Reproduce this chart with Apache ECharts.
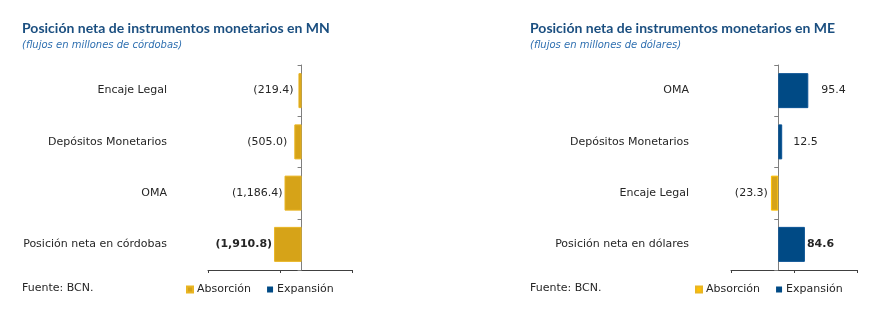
<!DOCTYPE html>
<html>
<head>
<meta charset="utf-8">
<script src="https://cdn.jsdelivr.net/npm/echarts@6/dist/echarts.min.js"></script>
<style>
html,body{margin:0;padding:0;background:#fff;}
#chart{width:871px;height:329px;}
</style>
</head>
<body>
<div id="chart"></div>
<script>
// ---- Data ----
const mnCategories = ['Encaje Legal', 'Depósitos Monetarios', 'OMA', 'Posición neta en córdobas'];
const mnAbsorcion = [-219.4, -505.0, -1186.4, -1910.8];
const mnExpansion = [null, null, null, null];

const meCategories = ['OMA', 'Depósitos Monetarios', 'Encaje Legal', 'Posición neta en dólares'];
const meAbsorcion = [null, null, -23.3, null];
const meExpansion = [95.4, 12.5, null, 84.6];

const legendNames = ['Absorción', 'Expansión'];

// ---- Styles ----
const GOLD = '#D6A318';
const GOLD_BORDER = '#E9B522';
const YELLOW = '#FFC000';
const BLUE = '#004A85';
const TXT = '#262626';
const FONT = 'DejaVu Sans';

function fmt(v) {
  const a = Math.abs(v).toLocaleString('en-US', {minimumFractionDigits: 1, maximumFractionDigits: 1});
  return v < 0 ? '(' + a + ')' : a;
}

function buildData(arr, distances, boldIndex) {
  return arr.map((v, i) => {
    if (v === null) return '-';
    const item = {value: v, label: {distance: distances[i]}};
    if (i === boldIndex) item.label.fontWeight = 'bold';
    return item;
  });
}

const labelBase = {
  show: true, fontFamily: FONT, fontSize: 11, color: TXT,
  formatter: p => fmt(p.value)
};

const chart = echarts.init(document.getElementById('chart'), null, {renderer: 'canvas'});

const titleStyle = {fontFamily: 'Lato', fontSize: 14, fontWeight: 'bold', color: '#1B4F80'};
const subStyle = {fontFamily: 'DejaVu Sans', fontSize: 10, fontStyle: 'italic', fontWeight: 'normal', color: '#2E6FB0'};
const footStyle = {fontFamily: FONT, fontSize: 11, color: TXT, fontWeight: 'normal'};

const option = {
  animation: false,
  title: [
    {text: 'Posición neta de instrumentos monetarios en MN', left: 22, top: 21, padding: 0, textStyle: titleStyle},
    {text: '(flujos en millones de córdobas)', left: 22, top: 40, padding: 0, textStyle: subStyle},
    {text: 'Posición neta de instrumentos monetarios en ME', left: 530, top: 21, padding: 0, textStyle: titleStyle},
    {text: '(flujos en millones de dólares)', left: 530, top: 40, padding: 0, textStyle: subStyle},
    {text: 'Fuente: BCN.', left: 22, top: 283, padding: 0, textStyle: footStyle},
    {text: 'Fuente: BCN.', left: 530, top: 283, padding: 0, textStyle: footStyle}
  ],
  legend: [
    {
      left: 186, top: 284, padding: 0, itemWidth: 6, itemHeight: 6, itemGap: 16,
      icon: 'rect',
      textStyle: {fontFamily: FONT, fontSize: 11, color: TXT, padding: [0, 0, 0, -1]},
      data: [
        {name: legendNames[0], itemStyle: {color: GOLD}},
        {name: legendNames[1], itemStyle: {color: BLUE}}
      ],
      selectedMode: false
    },
    {
      left: 695, top: 284, padding: 0, itemWidth: 6, itemHeight: 6, itemGap: 16,
      icon: 'rect',
      textStyle: {fontFamily: FONT, fontSize: 11, color: TXT, padding: [0, 0, 0, -1]},
      data: [
        {name: legendNames[0], itemStyle: {color: YELLOW}},
        {name: legendNames[1], itemStyle: {color: BLUE}}
      ],
      selectedMode: false
    }
  ],
  grid: [
    {left: 208, width: 144, top: 65, height: 205, containLabel: false, outerBoundsMode: 'none'},
    {left: 731, width: 126, top: 65, height: 205, containLabel: false, outerBoundsMode: 'none'}
  ],
  xAxis: [
    {gridIndex: 0, type: 'value', min: -6500, max: 3500,
      axisLine: {show: false}, axisTick: {show: false}, axisLabel: {show: false}, splitLine: {show: false}},
    {gridIndex: 0, type: 'value', min: 0, max: 2, interval: 1, position: 'bottom',
      axisLine: {show: true, onZero: false, lineStyle: {color: '#404040', width: 1}},
      axisTick: {show: true, length: 3, lineStyle: {color: '#404040'}},
      axisLabel: {show: false}, splitLine: {show: false}},
    {gridIndex: 1, type: 'value', min: -150, max: 250,
      axisLine: {show: false}, axisTick: {show: false}, axisLabel: {show: false}, splitLine: {show: false}},
    {gridIndex: 1, type: 'value', min: 0, max: 2, interval: 1, position: 'bottom',
      axisLine: {show: true, onZero: false, lineStyle: {color: '#404040', width: 1}},
      axisTick: {show: true, length: 3, lineStyle: {color: '#404040'}},
      axisLabel: {show: false}, splitLine: {show: false}}
  ],
  yAxis: [
    {gridIndex: 0, type: 'category', inverse: true, data: mnCategories,
      axisLine: {show: true, onZero: true, onZeroAxisIndex: 0, lineStyle: {color: '#7F7F7F', width: 1}},
      axisTick: {show: true, length: 4, lineStyle: {color: '#7F7F7F'}},
      axisLabel: {margin: 41, fontFamily: FONT, fontSize: 11, color: TXT}},
    {gridIndex: 1, type: 'category', inverse: true, data: meCategories,
      axisLine: {show: true, onZero: true, onZeroAxisIndex: 2, lineStyle: {color: '#7F7F7F', width: 1}},
      axisTick: {show: true, length: 4, lineStyle: {color: '#7F7F7F'}},
      axisLabel: {margin: 42, fontFamily: FONT, fontSize: 11, color: TXT}}
  ],
  series: [
    {name: legendNames[0], type: 'bar', xAxisIndex: 0, yAxisIndex: 0, stack: 'mn', barWidth: 35,
      itemStyle: {color: GOLD, borderColor: GOLD_BORDER, borderWidth: 1},
      label: Object.assign({position: 'left'}, labelBase),
      data: buildData(mnAbsorcion, [5, 7, 2, 2], 3)},
    {name: legendNames[1], type: 'bar', xAxisIndex: 0, yAxisIndex: 0, stack: 'mn', barWidth: 35,
      itemStyle: {color: BLUE},
      label: Object.assign({position: 'right'}, labelBase),
      data: buildData(mnExpansion, [3, 3, 3, 3], 3)},
    {name: legendNames[0], type: 'bar', xAxisIndex: 2, yAxisIndex: 1, stack: 'me', barWidth: 35,
      itemStyle: {color: GOLD, borderColor: YELLOW, borderWidth: 1},
      label: Object.assign({position: 'left'}, labelBase),
      data: buildData(meAbsorcion, [3, 3, 3, 3], 3)},
    {name: legendNames[1], type: 'bar', xAxisIndex: 2, yAxisIndex: 1, stack: 'me', barWidth: 35,
      itemStyle: {color: BLUE, borderColor: '#0A5394', borderWidth: 1},
      label: Object.assign({position: 'right'}, labelBase),
      data: buildData(meExpansion, [13, 11, 3, 2], 3)}
  ]
};

chart.setOption(option);
</script>
</body>
</html>
